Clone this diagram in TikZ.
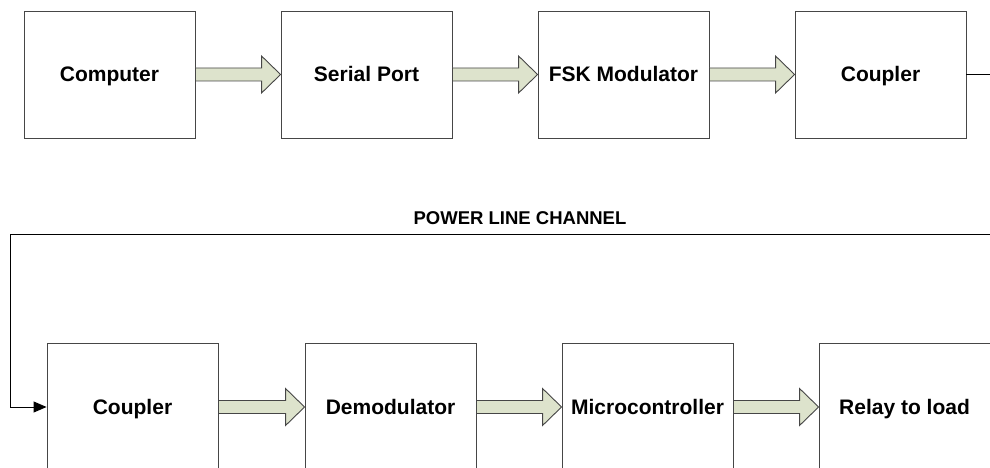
\documentclass[tikz,border=0pt]{standalone}
\usepackage{fontspec}
\setmainfont{Liberation Sans}
\usetikzlibrary{calc,arrows.meta}
\definecolor{arrfill}{RGB}{221,227,204}
\definecolor{edge}{RGB}{70,70,70}
\newcommand\blockarrow[2]{%
  \draw[barrow] ($(#1.east)+(0,-6.5)$) -- ($(#2.west)+(-19,-6.5)$) -- ($(#2.west)+(-19,-18.5)$) -- (#2.west) -- ($(#2.west)+(-19,18.5)$) -- ($(#2.west)+(-19,6.5)$) -- ($(#1.east)+(0,6.5)$) -- cycle;}
\begin{document}
\begin{tikzpicture}[x=1pt,y=-1pt,
  blk/.style={draw=edge,line width=0.9pt,fill=white,minimum width=171pt,minimum height=127pt,inner sep=0pt,
    text height=15pt,text depth=0pt,
    font=\fontsize{21}{25}\selectfont\bfseries},
  barrow/.style={draw=edge,line width=0.9pt,fill=arrfill,line join=miter},
  wire/.style={draw=black,line width=0.9pt}]
\path[use as bounding box,clip] (0,0) rectangle (990,468);
\node[blk] (comp) at (109.5,74.5) {Computer};
\node[blk] (ser) at (366.5,74.5) {Serial Port};
\node[blk] (fsk) at (623.5,74.5) {FSK Modulator};
\node[blk] (tc) at (880.5,74.5) {Coupler};
\node[blk] (bc) at (132.5,407) {Coupler};
\node[blk] (dem) at (390.5,407) {Demodulator};
\node[blk] (mic) at (647.5,407) {Microcontroller};
\node[blk] (rel) at (904.5,407) {Relay to load};
\blockarrow{comp}{ser}
\blockarrow{ser}{fsk}
\blockarrow{fsk}{tc}
\blockarrow{bc}{dem}
\blockarrow{dem}{mic}
\blockarrow{mic}{rel}
\coordinate (tout) at (992,74.5);
\coordinate (plr) at (992,234.5);
\coordinate (pll) at (10,234.5);
\draw[wire] (tc.east) -- (tout);
\draw[wire,-{Triangle[length=13pt,width=11pt]}] (plr) -- (pll) |- (bc.west);
\node[font=\fontsize{18.5}{22}\selectfont\bfseries] (plc) at (520,218.5) {POWER LINE CHANNEL};
\end{tikzpicture}
\end{document}
